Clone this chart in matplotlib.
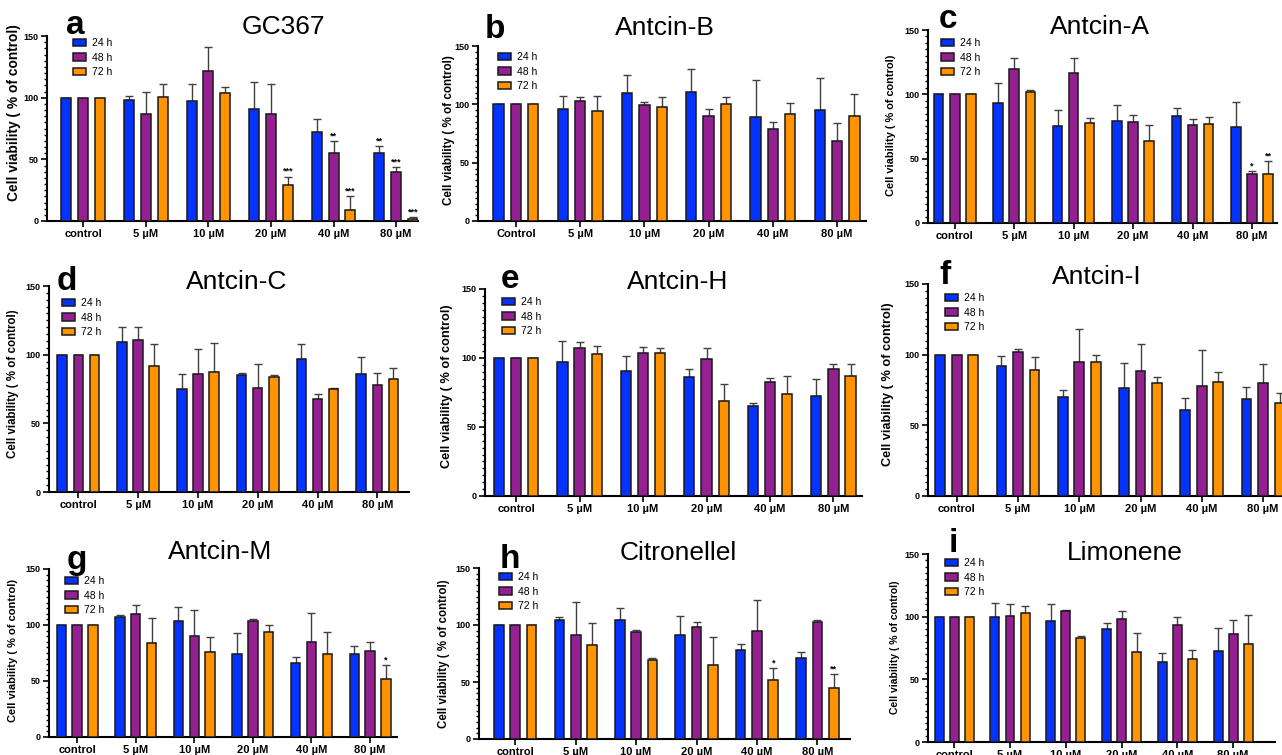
import matplotlib
matplotlib.use('Agg')
import matplotlib.pyplot as plt
from matplotlib.ticker import MultipleLocator
import numpy as np

plt.rcParams['font.family'] = ['Liberation Sans', 'DejaVu Sans']

doses = ['control', '5 µM', '10 µM', '20 µM', '40 µM', '80 µM']
doses_b = ['Control', '5 µM', '10 µM', '20 µM', '40 µM', '80 µM']
times = ['24 h', '48 h', '72 h']
colors = ['#0433ff', '#942092', '#ff9300']

# mean cell viability (% of control), one row per time point
gc367_mean = [[100, 98, 97, 90.5, 72.5, 55],
              [100, 87, 122, 86.5, 55, 40],
              [100, 100.5, 104, 29, 9, 1.5]]
gc367_err = [[0, 3, 14, 22.5, 10, 6],
             [0, 18, 19, 24.5, 10, 3.5],
             [0, 10.5, 5, 7, 11.5, 2]]

antcin_b_mean = [[100, 95.7, 110, 111, 89.4, 95],
                 [100, 103, 99.5, 90, 78.6, 68.6],
                 [100, 94, 98, 100, 92, 90]]
antcin_b_err = [[0, 11.3, 15, 19, 31.6, 28],
                [0, 3, 2.5, 6, 6.4, 15.4],
                [0, 13, 8, 6, 9, 19]]

antcin_a_mean = [[100, 93.4, 75.3, 79.4, 83.3, 74.7],
                 [100, 120, 116.8, 78.4, 75.8, 38.4],
                 [100, 102, 77.9, 63.8, 77, 38.4]]
antcin_a_err = [[0, 15.3, 12.7, 12.2, 5.7, 19],
                [0, 8, 11.2, 5.9, 5.4, 2.1],
                [0, 1.6, 3.9, 12.5, 5.5, 9.4]]

antcin_c_mean = [[100, 109, 75, 85, 97.2, 85.6],
                 [100, 110.6, 85.8, 75.9, 68, 78],
                 [100, 92, 87.5, 83.6, 74.9, 82.4]]
antcin_c_err = [[0, 11, 10.6, 1.3, 10.3, 12.9],
                [0, 9.7, 18, 17, 3, 8.8],
                [0, 15.5, 21.2, 1.3, 0.5, 8]]

antcin_h_mean = [[100, 96.8, 90.5, 86, 65, 72.3],
                 [100, 107, 103.8, 99, 82.5, 91.7],
                 [100, 102.8, 103.8, 68.5, 73.8, 87.1]]
antcin_h_err = [[0, 15.2, 11.1, 6, 2.7, 12.7],
                [0, 4.8, 4.2, 8, 2.9, 3.6],
                [0, 5.8, 3.2, 12.3, 13.1, 8.9]]

antcin_i_mean = [[100, 92.3, 70.3, 76.4, 61, 68.4],
                 [100, 102, 94.6, 88.7, 77.6, 80],
                 [100, 89.2, 94.9, 79.7, 80.7, 66]]
antcin_i_err = [[0, 7.1, 4.7, 17.6, 8.6, 8.7],
                [0, 2.3, 23.9, 18.7, 25.4, 13.7],
                [0, 9.2, 4.9, 4.3, 7.3, 7]]

antcin_m_mean = [[100, 107.4, 103.5, 74.4, 66, 74],
                 [100, 110, 90, 104, 85.2, 76.5],
                 [100, 84, 75.6, 93.6, 74, 52]]
antcin_m_err = [[0, 1.6, 12.9, 18.3, 5, 7],
                [0, 7.6, 23.7, 1.6, 25.5, 8.1],
                [0, 22, 13.4, 6.6, 19.6, 12]]

citronellel_mean = [[100, 104.5, 104.2, 91.3, 77.8, 70.7],
                    [100, 91.3, 94.2, 98.3, 94.8, 103],
                    [100, 82.2, 69.3, 64.6, 52, 45]]
citronellel_err = [[0, 2.5, 10.6, 16.7, 5.2, 5.6],
                   [0, 29.3, 1.2, 4.4, 27.2, 1.8],
                   [0, 19.8, 2, 25.2, 10.5, 11.6]]

limonene_mean = [[100, 100, 96.5, 90.4, 63.5, 72.3],
                 [100, 100.3, 104.5, 98.4, 93.3, 86.4],
                 [100, 103.2, 83, 71.7, 65.9, 78]]
limonene_err = [[0, 11, 13.4, 4.8, 7.7, 18.9],
                [0, 9.6, 0.8, 6.4, 6.2, 10.9],
                [0, 5.3, 1.8, 15, 7.7, 23.3]]

# significance marks: (dose index, time index, text)
gc367_stars = [(3, 2, '***'), (4, 1, '**'), (4, 2, '***'),
               (5, 0, '**'), (5, 1, '***'), (5, 2, '***')]
antcin_a_stars = [(5, 1, '*'), (5, 2, '**')]
antcin_m_stars = [(5, 2, '*')]
citronellel_stars = [(4, 2, '*'), (5, 2, '**')]

W, H = 1282, 755

# name, letter, mean, err, stars, xticklabels,
# axes px (left, right, top, bottom), xlim, title xy, letter xy,
# legend xy, ylabel xy, ylabel size
panels = [
    ('GC367', 'a', gc367_mean, gc367_err, gc367_stars, doses,
     (47, 418, 36, 221), (-0.58, 5.35), (283, 27), (75, 25), (73, 38), (21, 113), 9.9),
    ('Antcin-B', 'b', antcin_b_mean, antcin_b_err, [], doses_b,
     (478, 866, 46, 221), (-0.59, 5.45), (665, 28), (495, 29), (498, 52), (455, 130), 8.4),
    ('Antcin-A', 'c', antcin_a_mean, antcin_a_err, antcin_a_stars, doses,
     (928, 1277, 30, 223), (-0.45, 5.42), (1100, 27), (948, 19), (941, 38), (896, 125), 7.9),
    ('Antcin-C', 'd', antcin_c_mean, antcin_c_err, [], doses,
     (49, 409, 286, 492), (-0.49, 5.53), (237, 282), (67, 282), (62, 298), (19, 384), 8.3),
    ('Antcin-H', 'e', antcin_h_mean, antcin_h_err, [], doses,
     (485, 862, 289, 496), (-0.49, 5.45), (678, 282), (510, 280), (502, 297), (453, 386), 9.2),
    ('Antcin-I', 'f', antcin_i_mean, antcin_i_err, [], doses,
     (928, 1282, 284, 496), (-0.47, 5.31), (1097, 277), (945, 276), (945, 293), (894, 384), 9.2),
    ('Antcin-M', 'g', antcin_m_mean, antcin_m_err, antcin_m_stars, doses,
     (49, 397, 569, 737), (-0.48, 5.46), (220, 552), (77, 560), (65, 576), (18, 651), 8.0),
    ('Citronellel', 'h', citronellel_mean, citronellel_err, citronellel_stars, doses,
     (479, 850, 568, 739), (-0.60, 5.54), (678, 553), (510, 560), (499, 572), (450, 654), 8.3),
    ('Limonene', 'i', limonene_mean, limonene_err, [], doses,
     (928, 1275, 554, 742), (-0.47, 5.75), (1125, 553), (953, 543), (945, 558), (900, 647), 7.5),
]

fig = plt.figure(figsize=(W / 100, H / 100), dpi=100)


def fx(x):
    return x / W


def fy(y):
    return 1 - y / H


for (name, letter, mean, err, stars, labels, box, xlim,
     title_xy, letter_xy, leg_xy, ylab_xy, ylab_fs) in panels:
    l, r, t, b = box
    ax = fig.add_axes([fx(l), fy(b), (r - l) / W, (b - t) / H])
    x = np.arange(len(labels))
    handles = []
    for j in range(3):
        xs = x + (j - 1) * 0.27
        bars = ax.bar(xs, mean[j], width=0.16, color=colors[j],
                      edgecolor='#1a1a1a', linewidth=1.1, zorder=3)
        handles.append(bars)
        ax.errorbar(xs, mean[j], yerr=[np.zeros(len(x)), err[j]], fmt='none',
                    ecolor='#404040', elinewidth=1, capsize=3, capthick=1, zorder=2)
    for gi, tj, txt in stars:
        ax.text(gi + (tj - 1) * 0.27, mean[tj][gi] + err[tj][gi] + 0.5, txt,
                ha='center', va='bottom', fontsize=6.5, fontweight='bold')

    ax.set_xlim(*xlim)
    ax.set_ylim(0, 150)
    ax.set_xticks(x)
    ax.set_xticklabels(labels, fontsize=8, fontweight='bold')
    ax.set_yticks([0, 50, 100, 150])
    ax.yaxis.set_minor_locator(MultipleLocator(5))
    for lab in ax.get_yticklabels():
        lab.set_fontsize(6.5)
        lab.set_fontweight('bold')
    ax.tick_params(axis='both', which='major', length=4, width=1.2, pad=2)
    ax.tick_params(axis='y', which='minor', length=2.2, width=1)
    for s in ['top', 'right']:
        ax.spines[s].set_visible(False)
    for s in ['left', 'bottom']:
        ax.spines[s].set_linewidth(1.5)
    ax.set_ylabel('Cell viability ( % of control)', fontsize=ylab_fs, fontweight='bold')
    ax.yaxis.set_label_coords(fx(ylab_xy[0]), fy(ylab_xy[1]), transform=fig.transFigure)

    ax.legend(handles, times, loc='upper left',
              bbox_to_anchor=(fx(leg_xy[0]), fy(leg_xy[1])),
              bbox_transform=fig.transFigure, frameon=False, fontsize=7.5,
              handlelength=1.25, handleheight=0.7, handletextpad=0.6,
              labelspacing=0.45, borderaxespad=0, borderpad=0)

    fig.text(fx(title_xy[0]), fy(title_xy[1]), name, ha='center', va='center',
             fontsize=19)
    fig.text(fx(letter_xy[0]), fy(letter_xy[1]), letter, ha='center', va='center',
             fontsize=24, fontweight='bold')

fig.savefig('out.png', dpi=100)
